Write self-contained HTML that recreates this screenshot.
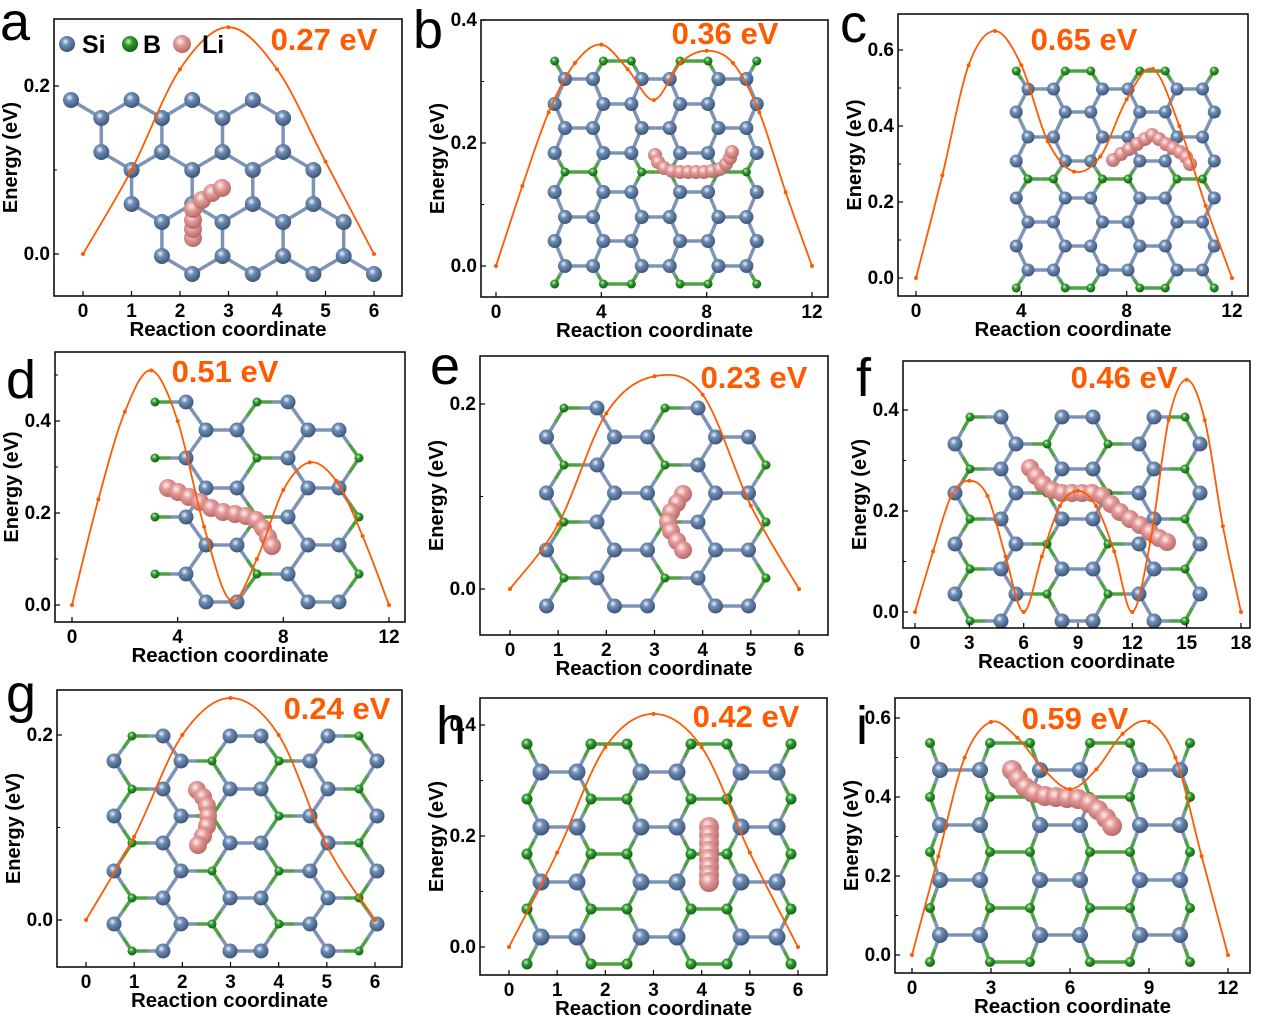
<!DOCTYPE html>
<html><head><meta charset="utf-8"><style>
html,body{margin:0;padding:0;background:#fff;}
svg{display:block;font-family:"Liberation Sans",Arial,sans-serif;}
</style></head><body>
<svg id="fig" width="1262" height="1026" viewBox="0 0 1262 1026" xmlns="http://www.w3.org/2000/svg">
<defs>
<radialGradient id="gSi" cx="40%" cy="35%" r="65%"><stop offset="0" stop-color="#eef4ff"/><stop offset="0.35" stop-color="#6f8db5"/><stop offset="1" stop-color="#3c5678"/></radialGradient>
<radialGradient id="gB" cx="40%" cy="35%" r="65%"><stop offset="0" stop-color="#c8f5c0"/><stop offset="0.4" stop-color="#2f9a2f"/><stop offset="1" stop-color="#145f14"/></radialGradient>
<radialGradient id="gLi" cx="40%" cy="35%" r="65%"><stop offset="0" stop-color="#fff2f2"/><stop offset="0.4" stop-color="#e49a98"/><stop offset="1" stop-color="#b56a68"/></radialGradient>
</defs>
</svg>
<script>
// ---- chart data (energies at each image index) ----
const energyA = [0, 0.10, 0.22, 0.27, 0.22, 0.11, 0];
const energyB = [0, 0.13, 0.25, 0.33, 0.36, 0.32, 0.27, 0.33, 0.35, 0.33, 0.25, 0.12, 0];
const energyC = [0, 0.27, 0.56, 0.65, 0.56, 0.36, 0.28, 0.32, 0.47, 0.55, 0.40, 0.19, 0];
const energyD = [0, 0.23, 0.42, 0.51, 0.40, 0.17, 0.01, 0.10, 0.25, 0.31, 0.27, 0.15, 0];
const energyE = [0, 0.07, 0.19, 0.23, 0.21, 0.09, 0];
const energyF = [0, 0.12, 0.23, 0.26, 0.23, 0.11, 0, 0.11, 0.21, 0.24, 0.21, 0.12, 0, 0.14, 0.38, 0.46, 0.38, 0.17, 0];
const energyG = [0, 0.09, 0.20, 0.24, 0.20, 0.08, 0];
const energyH = [0, 0.17, 0.36, 0.42, 0.36, 0.17, 0];
const energyI = [0, 0.25, 0.50, 0.59, 0.55, 0.47, 0.42, 0.47, 0.56, 0.59, 0.50, 0.25, 0];
const barrierLabels = ["0.27 eV","0.36 eV","0.65 eV","0.51 eV","0.23 eV","0.46 eV","0.24 eV","0.42 eV","0.59 eV"];
const xTicks6 = [0,1,2,3,4,5,6];
const xTicks12 = [0,4,8,12];
const xTicks18 = [0,3,6,9,12,15,18];
const xTicks12i = [0,3,6,9,12];
const yTicks02 = [0.0,0.2];
const yTicks04 = [0.0,0.2,0.4];
const yTicks06 = [0.0,0.2,0.4,0.6];

const NS="http://www.w3.org/2000/svg";
const svg=document.getElementById('fig');
function mk(tag,attrs,parent){const e=document.createElementNS(NS,tag);for(const k in attrs)e.setAttribute(k,attrs[k]);(parent||svg).appendChild(e);return e;}
const near=(x,list)=>list.some(g=>Math.abs(g-x)<5);

const panels=[
 {id:'a',box:[54,19,402,296],xm:[0,83,6,374],ym:[0,254,0.2,86],xt:xTicks6,yt:yTicks02,E:energyA,letter:[0,40],lab:[324,50],
  lat:{orient:'v',rows:[71,101.3,131.6,161.9,192.2,222.5,252.8,283.1,313.4,343.7,374],firstOdd:1,x0:14,P:104,W:34,rSi:8,
   keep:(x,y)=>y>95&&y<280&&x>=71+(y-100)*0.53-2&&x<=290+(y-100)*0.55,green:()=>false},
  li:[[193,238],[193,229],[193,220],[193,209],[202,200],[212,193],[222,188]],liR:9},
 {id:'b',box:[481,20,828,297],xm:[0,496,12,812],ym:[0,266,0.4,20],xt:xTicks12,yt:yTicks04,E:energyB,letter:[413,48],lab:[725,44],
  lat:{orient:'h',rows:[61,79,104,128,153,172,192,217,241,266,284],firstOdd:1,x0:565,P:76.7,W:28,rSi:7,rB:4.5,
   keep:(x,y)=>x>545&&x<765,green:(r)=>r===0||r===10||r===5},
  li:[[655,155],[658,162],[664,168],[672,171],[680,172],[688,172],[696,172],[704,172],[712,171],[720,169],[726,164],[730,158],[732,152]],liR:7},
 {id:'c',box:[898,14,1248,296],xm:[0,916,12,1232],ym:[0,278,0.6,50],xt:xTicks12,yt:yTicks06,E:energyC,letter:[840,42],lab:[1084,50],
  lat:{orient:'h',rows:[71,89,112,137,161,179,198,222,246,270,288],firstOdd:1,x0:1028,P:74.5,W:25.5,rSi:6.5,rB:4.5,
   keep:(x,y)=>x>1005&&x<1225,green:(r)=>r===0||r===5||r===10},
  li:[[1113,160],[1121,154],[1129,149],[1137,144],[1145,139],[1152,135],[1159,139],[1166,144],[1173,148],[1180,152],[1186,157],[1190,164]],liR:7},
 {id:'d',box:[55,352,405,622],xm:[0,72,12,389],ym:[0,605,0.4,421],xt:xTicks12,yt:yTicks04,E:energyD,letter:[6,398],lab:[225,382],
  lat:{orient:'h',rows:[402,430,458,488,517,545,574,602],firstOdd:0,x0:155,P:102,W:31,rSi:7.5,rB:4.5,
   keep:(x,y)=>x>135&&x<362&&!(y<410&&x>300),green:(r,j)=>r%2===0&&j===0},
  li:[[168,488],[178,492],[189,497],[200,502],[211,508],[223,512],[235,514],[246,516],[256,520],[263,528],[268,537],[272,546]],liR:9},
 {id:'e',box:[480,356,828,635],xm:[0,510,6,799],ym:[0,589,0.2,404],xt:xTicks6,yt:yTicks02,E:energyE,letter:[430,384],lab:[754,388],
  lat:{orient:'h',rows:[408,437,465,493,522,550,578,606],firstOdd:0,x0:564,P:101,W:33,rSi:7.5,rB:4.5,
   keep:(x,y)=>x>545&&x<772&&!(y<415&&x>720),green:(r,j)=>r%2===0&&j===0},
  li:[[683,494],[677,503],[671,512],[668,522],[671,531],[677,541],[683,550]],liR:9},
 {id:'f',box:[903,361,1250,628],xm:[0,915,18,1241],ym:[0,612,0.4,410],xt:xTicks18,yt:yTicks04,E:energyF,letter:[856,396],lab:[1124,388],
  lat:{orient:'h',rows:[417,444,469,493,519,544,569,594,621],firstOdd:0,x0:970,P:92,W:31,rSi:7.5,rB:4.5,
   keep:(x,y)=>x>950&&x<1205,green:(r,j,x)=>near(x,[970,1047,1108,1185])},
  li:[[1030,468],[1036,476],[1043,484],[1052,490],[1062,493],[1072,493],[1082,493],[1092,493],[1102,496],[1111,504],[1120,512],[1130,519],[1140,525],[1150,532],[1159,538],[1167,542]],liR:9},
 {id:'g',box:[57,690,402,967],xm:[0,86,6,375],ym:[0,920,0.2,735],xt:xTicks6,yt:yTicks02,E:energyG,letter:[6,712],lab:[337,719],
  lat:{orient:'h',rows:[736,761,789,816,843,871,898,924,951],firstOdd:0,x0:132,P:98,W:31,rSi:7.5,rB:4.5,
   keep:(x,y)=>x>112&&x<380,green:(r,j,x)=>r%2===0?near(x,[132,359]):near(x,[212,279])},
  li:[[197,790],[203,797],[207,806],[208,816],[207,826],[203,836],[198,845]],liR:9},
 {id:'h',box:[480,698,827,975],xm:[0,509,6,798],ym:[0,947,0.4,725],xt:xTicks6,yt:yTicks04,E:energyH,letter:[436,744],lab:[746,727],
  lat:{orient:'h',rows:[744,772,799,827,854,882,909,937,964],firstOdd:1,x0:541,P:100,W:36,rSi:8.5,rB:5.5,
   keep:(x,y)=>x>515&&x<805,green:(r)=>r%2===0},
  li:[[709,827],[709,835],[709,843],[709,851],[709,859],[709,867],[709,875],[709,882]],liR:10},
 {id:'i',box:[895,698,1250,973],xm:[0,912,12,1228],ym:[0,955,0.6,718],xt:xTicks12i,yt:yTicks06,E:energyI,letter:[856,744],lab:[1075,729],
  lat:{orient:'h',rows:[743,770,797,825,852,880,908,935,962],firstOdd:1,x0:940,P:100,W:40,rSi:8,rB:5,
   keep:(x,y)=>x>915&&x<1215,green:(r)=>r%2===0},
  li:[[1012,770],[1018,779],[1025,787],[1034,793],[1045,796],[1056,797],[1067,798],[1078,799],[1089,803],[1098,810],[1106,818],[1112,826]],liR:10}
];

function buildLattice(p,g){
  const L=p.lat;const atoms=[];
  L.rows.forEach((rv,r)=>{
    const odd=((r+L.firstOdd)%2)===1;
    const off=odd?L.P/2:0;
    for(let k=-4;k<12;k++)for(let j=0;j<2;j++){
      const u=L.x0+off+k*L.P+j*L.W;
      let x,y; if(L.orient==='h'){x=u;y=rv;}else{x=rv;y=u;}
      if(!L.keep(x,y))continue;
      atoms.push({x,y,gr:!!L.green(r,j,x)});
    }
  });
  const diag=Math.hypot(L.P/2-L.W,(L.rows[2]-L.rows[1]));
  const thr=1.25*Math.max(L.W,diag);
  const bg=mk('g',{},g);
  
  
  for(let i=0;i<atoms.length;i++)for(let k=i+1;k<atoms.length;k++){
    const a=atoms[i],b=atoms[k];
    if(Math.hypot(a.x-b.x,a.y-b.y)<thr){
      const mx=(a.x+b.x)/2,my=(a.y+b.y)/2;
      mk('line',{x1:a.x,y1:a.y,x2:mx,y2:my,stroke:a.gr?'#4ea244':'#7d93b5','stroke-width':3.5},bg);
      mk('line',{x1:mx,y1:my,x2:b.x,y2:b.y,stroke:b.gr?'#4ea244':'#7d93b5','stroke-width':3.5},bg);
    }
  }
  const ag=mk('g',{},g);
  
  
  atoms.forEach(a=>{
    const c=mk('circle',{cx:a.x,cy:a.y,r:a.gr?(L.rB||4.5):L.rSi,fill:a.gr?'url(#gB)':'url(#gSi)'},ag);
    
    
  });
  const lg=mk('g',{},g);
  
  
  p.li.forEach(q=>{
    const c=mk('circle',{cx:q[0],cy:q[1],r:p.liR,fill:'url(#gLi)'},lg);
    
    
  });
}

panels.forEach((p,pi)=>{
  const g=mk('g',{});
  
  
  const [L,T,R,B]=p.box;
  const sx=v=>p.xm[1]+(v-p.xm[0])*(p.xm[3]-p.xm[1])/(p.xm[2]-p.xm[0]);
  const sy=v=>p.ym[1]+(v-p.ym[0])*(p.ym[3]-p.ym[1])/(p.ym[2]-p.ym[0]);
  buildLattice(p,g);
  const fr=mk('rect',{x:L,y:T,width:R-L,height:B-T,fill:'none',stroke:'#000','stroke-width':1.5},g);
  
  
  p.xt.forEach(v=>{
    mk('line',{x1:sx(v),y1:B,x2:sx(v),y2:B-5,stroke:'#000','stroke-width':1.2},g);
    const t=mk('text',{x:sx(v),y:B+21,'text-anchor':'middle','font-size':19,'font-weight':'bold',fill:'#000'},g);
    t.textContent=String(v);
    
    
  });
  const step=p.yt[1]-p.yt[0];
  p.yt.forEach(v=>{
    mk('line',{x1:L,y1:sy(v),x2:L+5,y2:sy(v),stroke:'#000','stroke-width':1.2},g);
    const m=sy(v+step/2); if(m>T) mk('line',{x1:L,y1:m,x2:L+3,y2:m,stroke:'#000','stroke-width':1},g);
    const t=mk('text',{x:L-4,y:sy(v)+6,'text-anchor':'end','font-size':19,'font-weight':'bold',fill:'#000'},g);
    t.textContent=v.toFixed(1);
    
    
  });
  const xt=mk('text',{x:(L+R)/2,y:B+40,'text-anchor':'middle','font-size':20.5,'font-weight':'bold',fill:'#000'},g);
  xt.textContent='Reaction coordinate';
  
  
  const cy=(T+B)/2;
  const yt=mk('text',{x:L-37,y:cy,'text-anchor':'middle','font-size':20,'font-weight':'bold',fill:'#000',transform:`rotate(-90 ${L-37} ${cy})`},g);
  yt.textContent='Energy (eV)';
  
  
  const pts=p.E.map((e,i)=>[sx(i),sy(e)]);
  let d=`M${pts[0][0]},${pts[0][1]}`;
  for(let i=0;i<pts.length-1;i++){
    const p0=pts[Math.max(0,i-1)],p1=pts[i],p2=pts[i+1],p3=pts[Math.min(pts.length-1,i+2)];
    const c1=[p1[0]+(p2[0]-p0[0])/6,p1[1]+(p2[1]-p0[1])/6];
    const c2=[p2[0]-(p3[0]-p1[0])/6,p2[1]-(p3[1]-p1[1])/6];
    d+=` C${c1[0]},${c1[1]} ${c2[0]},${c2[1]} ${p2[0]},${p2[1]}`;
  }
  const path=mk('path',{d:d,fill:'none',stroke:'#ff5a00','stroke-width':1.8},g);
  
  
  pts.forEach(q=>{
    const c=mk('circle',{cx:q[0],cy:q[1],r:2,fill:'#ff5a00'},g);
    
    
  });
  const lb=mk('text',{x:p.lab[0],y:p.lab[1],'text-anchor':'middle','font-size':31,'font-weight':'bold',fill:'#ff5a00'},g);
  lb.textContent=barrierLabels[pi];
  
  
  const lt=mk('text',{x:p.letter[0],y:p.letter[1],'font-size':54,fill:'#000'},g);
  lt.textContent=p.id;
  
  
});

const leg=mk('g',{});


[['url(#gSi)',67,'Si',82],['url(#gB)',130,'B',143],['url(#gLi)',182,'Li',202]].forEach(e=>{
  const c=mk('circle',{cx:e[1],cy:44,r:e[2]==='Li'?9:8,fill:e[0]},leg);
  
  
  const t=mk('text',{x:e[3],y:53,'font-size':25,'font-weight':'bold',fill:'#000'},leg);
  t.textContent=e[2];
  
  
});
</script>
</body></html>
